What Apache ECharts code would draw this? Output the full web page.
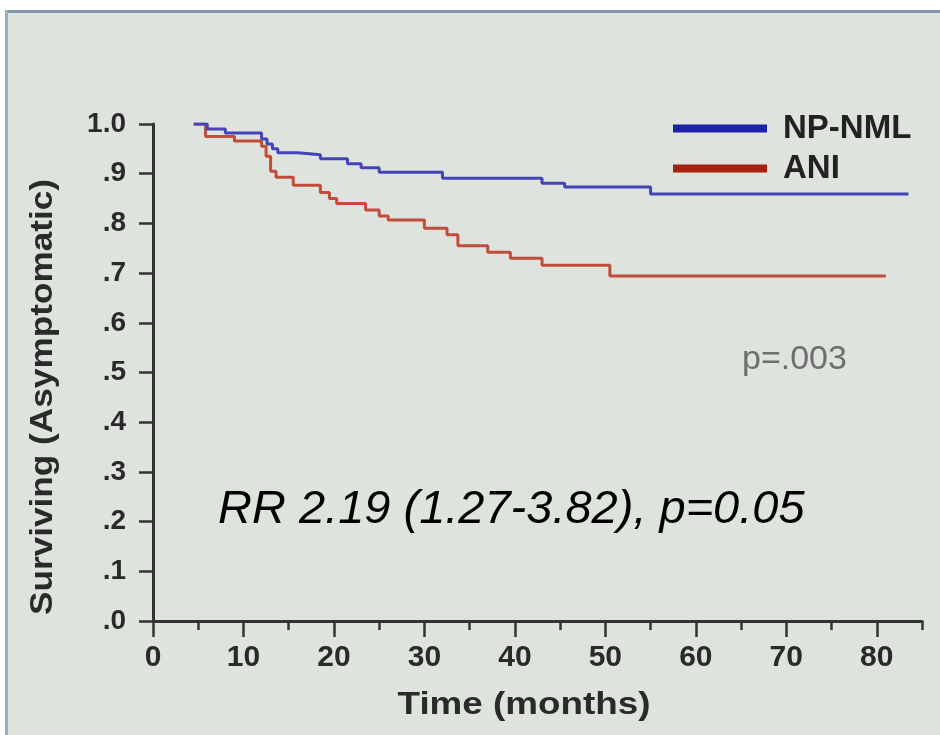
<!DOCTYPE html>
<html><head><meta charset="utf-8">
<script src="https://cdn.jsdelivr.net/npm/echarts@6/dist/echarts.min.js"></script>
<style>html,body{margin:0;padding:0;background:#fff;} #c{width:940px;height:735px;}</style>
</head><body><div id="c"></div>
<script>
// ---- data ----
const seriesNames = ['NP-NML', 'ANI'];
const xMajorTicks = [0, 10, 20, 30, 40, 50, 60, 70, 80];
const xMinorTicks = [0, 5, 10, 15, 20, 25, 30, 35, 40, 45, 50, 55, 60, 65, 70, 75, 80, 85];
const xTitle = 'Time (months)';
const yTitle = 'Surviving (Asymptomatic)';
const npnmlTime = [4.5, 6, 8, 12, 12.6, 13.2, 13.8, 16, 18.5, 21.5, 23, 25, 32, 43, 45.5, 55, 83.5];
const npnmlSurv = [1.0, 0.99, 0.982, 0.97, 0.96, 0.95, 0.942, 0.938, 0.93, 0.92, 0.912, 0.903, 0.891, 0.881, 0.873, 0.859, 0.859];
const aniTime = [4.5, 5.8, 9, 12, 12.5, 13, 13.6, 15.5, 18.5, 19.5, 20.3, 23.5, 25, 26, 30, 32.5, 33.7, 37, 39.5, 43, 50.5, 81];
const aniSurv = [1.0, 0.975, 0.966, 0.955, 0.935, 0.905, 0.893, 0.877, 0.862, 0.85, 0.84, 0.827, 0.815, 0.807, 0.79, 0.777, 0.755, 0.742, 0.73, 0.716, 0.694, 0.694];
const pText = 'p=.003';
const rrText = 'RR 2.19 (1.27-3.82), p=0.05';

const FF = '"Liberation Sans", Arial, sans-serif';
const AX = '#333';
const chart = echarts.init(document.getElementById('c'));
const pairs = (t, s) => t.map((v, i) => [v, s[i]]);

chart.setOption({
  animation: false,
  backgroundColor: '#dfe3de',
  grid: { left: 153, right: 18, top: 124, bottom: 114, containLabel: false },
  legend: {
    orient: 'vertical', left: 668, top: 107, itemGap: 7,
    icon: 'rect', itemWidth: 94, itemHeight: 8,
    textStyle: { fontFamily: FF, fontSize: 33, fontWeight: 'bold', color: '#222', lineHeight: 22, padding: [0, 0, 0, 11] },
    data: [
      { name: seriesNames[0], itemStyle: { color: '#1e22aa' } },
      { name: seriesNames[1], itemStyle: { color: '#a8200e' } }
    ]
  },
  xAxis: [
    {
      type: 'value', min: 0, max: 85, position: 'bottom',
      axisLine: { show: true, lineStyle: { color: AX, width: 3 } },
      axisTick: { show: true, customValues: xMajorTicks, length: 16, lineStyle: { color: AX, width: 2.5 } },
      axisLabel: { customValues: xMajorTicks, fontFamily: FF, fontSize: 30, fontWeight: 'bold', color: '#2a2a2a', margin: 22 },
      splitLine: { show: false }
    },
    {
      type: 'value', min: 0, max: 85, position: 'bottom',
      axisLine: { show: false },
      axisTick: { show: true, customValues: xMinorTicks, length: 9, lineStyle: { color: AX, width: 2.5 } },
      axisLabel: { show: false },
      splitLine: { show: false }
    }
  ],
  yAxis: {
    type: 'value', min: 0, max: 1, interval: 0.1,
    axisLine: { show: true, lineStyle: { color: AX, width: 3 } },
    axisTick: { show: true, length: 14, lineStyle: { color: AX, width: 2.5 } },
    axisLabel: {
      fontFamily: FF, fontSize: 28, fontWeight: 'bold', color: '#2a2a2a', margin: 27,
      formatter: v => (v >= 0.999 ? '1.0' : '.' + Math.round(v * 10))
    },
    splitLine: { show: false }
  },
  series: [
    { name: seriesNames[0], type: 'line', step: 'end', showSymbol: false, symbol: 'none',
      lineStyle: { color: '#4244b8', width: 3 }, itemStyle: { color: '#4244b8' },
      data: pairs(npnmlTime, npnmlSurv), z: 3 },
    { name: seriesNames[1], type: 'line', step: 'end', showSymbol: false, symbol: 'none',
      lineStyle: { color: '#c04c3a', width: 3 }, itemStyle: { color: '#c04c3a' },
      data: pairs(aniTime, aniSurv), z: 2 }
  ],
  graphic: [
    { type: 'rect', shape: { x: 0, y: 0, width: 940, height: 10 }, style: { fill: '#ffffff' }, silent: true },
    { type: 'rect', shape: { x: 0, y: 0, width: 5, height: 735 }, style: { fill: '#ffffff' }, silent: true },
    { type: 'rect', shape: { x: 5, y: 10, width: 935, height: 3 }, style: { fill: '#8296ae' }, silent: true },
    { type: 'rect', shape: { x: 5, y: 10, width: 3, height: 725 }, style: { fill: '#9aaac2' }, silent: true },
    { type: 'text', x: 43, y: 397, rotation: Math.PI / 2, scaleX: 1.1,
      style: { text: yTitle, fontFamily: FF, fontSize: 32, fontWeight: 'bold', fill: '#2a2a2a', align: 'center', verticalAlign: 'middle' } },
    { type: 'text', x: 524, y: 705, scaleX: 1.15,
      style: { text: xTitle, fontFamily: FF, fontSize: 32, fontWeight: 'bold', fill: '#2a2a2a', align: 'center', verticalAlign: 'middle' } },
    { type: 'text', x: 742, y: 360,
      style: { text: pText, fontFamily: FF, fontSize: 34, fill: '#6e6e6e', align: 'left', verticalAlign: 'middle' } },
    { type: 'text', x: 218, y: 510,
      style: { text: rrText, fontFamily: FF, fontSize: 47, fontStyle: 'italic', fill: '#000', align: 'left', verticalAlign: 'middle' } }
  ]
});
</script>
</body></html>
